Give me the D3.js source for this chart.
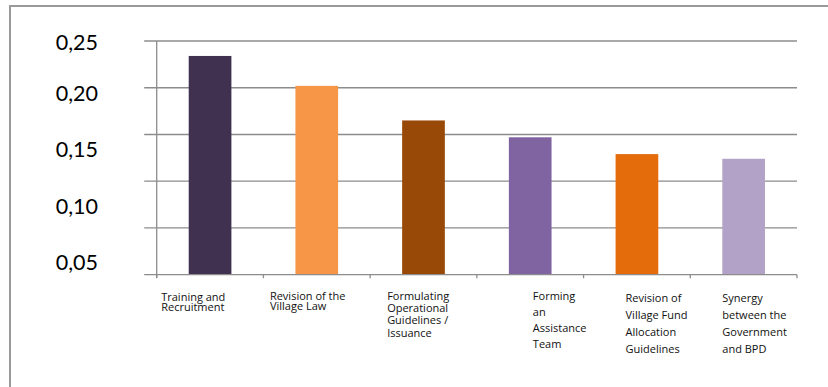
<!DOCTYPE html>
<html>
<head>
<meta charset="utf-8">
<script src="https://cdn.jsdelivr.net/npm/d3@7"></script>
<style>
  html, body { margin: 0; padding: 0; background: #fff; }
  svg { display: block; }
</style>
</head>
<body>
<svg id="chart" width="828" height="387"></svg>
<script>
// Categories, their wrapped label lines and the bar values
const categories = [
  "Training and Recruitment",
  "Revision of the Village Law",
  "Formulating Operational Guidelines / Issuance",
  "Forming an Assistance Team",
  "Revision of Village Fund Allocation Guidelines",
  "Synergy between the Government and BPD"
];
const labelLines = [
  ["Training and", "Recruitment"],
  ["Revision of the", "Village Law"],
  ["Formulating", "Operational", "Guidelines /", "Issuance"],
  ["Forming", "an", "Assistance", "Team"],
  ["Revision of", "Village Fund", "Allocation", "Guidelines"],
  ["Synergy", "between the", "Government", "and BPD"]
];
const values = [0.234, 0.202, 0.165, 0.147, 0.129, 0.124];
const barColors = ["#403151", "#F79646", "#984807", "#8064A2", "#E46C0A", "#B3A2C7"];
const gridValues = [0, 0.05, 0.10, 0.15, 0.20, 0.25];
const tickLabels = [0.05, 0.10, 0.15, 0.20, 0.25];

// Per-label text placement: horizontal offset inside the band, first baseline, line spacing
const labelLayout = [
  { dx: 4.5, y: 300.5, lh: 10.2 },
  { dx: 6.5, y: 299.5, lh: 10.7 },
  { dx: 17, y: 299.5, lh: 12.4 },
  { dx: 56, y: 299.5, lh: 16 },
  { dx: 42, y: 301.7, lh: 17.2 },
  { dx: 32, y: 301.7, lh: 17.2 }
];

const svg = d3.select("#chart");
const labelFont = "'Open Sans', Lato, sans-serif";
const valueFont = "Lato, 'Open Sans', sans-serif";

// Outer frame
svg.append("rect")
  .attr("x", 10).attr("y", 6)
  .attr("width", 830).attr("height", 400)
  .attr("fill", "none")
  .attr("stroke", "#9a9a9a")
  .attr("stroke-width", 2);

const plot = { left: 156.7, right: 797, top: 41, bottom: 274.7 };

const x = d3.scaleBand()
  .domain(categories)
  .range([plot.left, plot.right])
  .paddingInner(0).paddingOuter(0);

const y = d3.scaleLinear()
  .domain([0, 0.25])
  .range([plot.bottom, plot.top]);

// Horizontal gridlines with short outside ticks on the left
svg.append("g")
  .selectAll("line")
  .data(gridValues.slice(1))
  .join("line")
  .attr("x1", plot.left - 12.5)
  .attr("x2", plot.right)
  .attr("y1", d => y(d))
  .attr("y2", d => y(d))
  .attr("stroke", "#8c8c8c")
  .attr("stroke-width", 1.3);

// Bars
const bw = x.bandwidth() * 0.4;
svg.append("g")
  .selectAll("rect")
  .data(values)
  .join("rect")
  .attr("x", (d, i) => x(categories[i]) + (x.bandwidth() - bw) / 2)
  .attr("y", d => y(d))
  .attr("width", bw)
  .attr("height", d => y(0) - y(d))
  .attr("fill", (d, i) => barColors[i]);

// Vertical axis line
svg.append("line")
  .attr("x1", plot.left).attr("x2", plot.left)
  .attr("y1", plot.top).attr("y2", plot.bottom + 3)
  .attr("stroke", "#8c8c8c").attr("stroke-width", 1.3);

// Category axis: baseline and tick marks at band boundaries
svg.append("line")
  .attr("x1", plot.left - 12.5).attr("x2", plot.right)
  .attr("y1", plot.bottom).attr("y2", plot.bottom)
  .attr("stroke", "#8c8c8c").attr("stroke-width", 1.3);
const bounds = categories.map(c => x(c)).concat([plot.right]);
svg.append("g")
  .selectAll("line")
  .data(bounds)
  .join("line")
  .attr("x1", d => d).attr("x2", d => d)
  .attr("y1", plot.bottom).attr("y2", plot.bottom + 3.5)
  .attr("stroke", "#8c8c8c").attr("stroke-width", 1.3);

// Value labels on the left, placed by their own label scale
const yLabel = d3.scaleLinear()
  .domain([0.05, 0.20, 0.25])
  .range([261.7, 93, 42]);
const yAxis = d3.axisLeft(yLabel)
  .tickValues(tickLabels)
  .tickSize(0)
  .tickPadding(0)
  .tickFormat(d => d3.format(".2f")(d).replace(".", ","));
const yg = svg.append("g")
  .attr("transform", "translate(98,0)")
  .call(yAxis);
yg.select(".domain").remove();
yg.selectAll("text")
  .attr("font-family", valueFont)
  .attr("font-size", 21.5)
  .attr("fill", "#000")
  .attr("dy", "0.36em");

// Wrapped category labels
const lab = svg.append("g")
  .selectAll("text")
  .data(categories)
  .join("text")
  .attr("font-family", labelFont)
  .attr("font-size", 11)
  .attr("fill", "#111")
  .attr("x", (c, i) => x(c) + labelLayout[i].dx)
  .attr("y", (c, i) => labelLayout[i].y);
lab.each(function (c, i) {
  d3.select(this).selectAll("tspan")
    .data(labelLines[i])
    .join("tspan")
    .attr("x", x(c) + labelLayout[i].dx)
    .attr("dy", (d, j) => j === 0 ? 0 : labelLayout[i].lh)
    .text(d => d);
});
</script>
</body>
</html>
